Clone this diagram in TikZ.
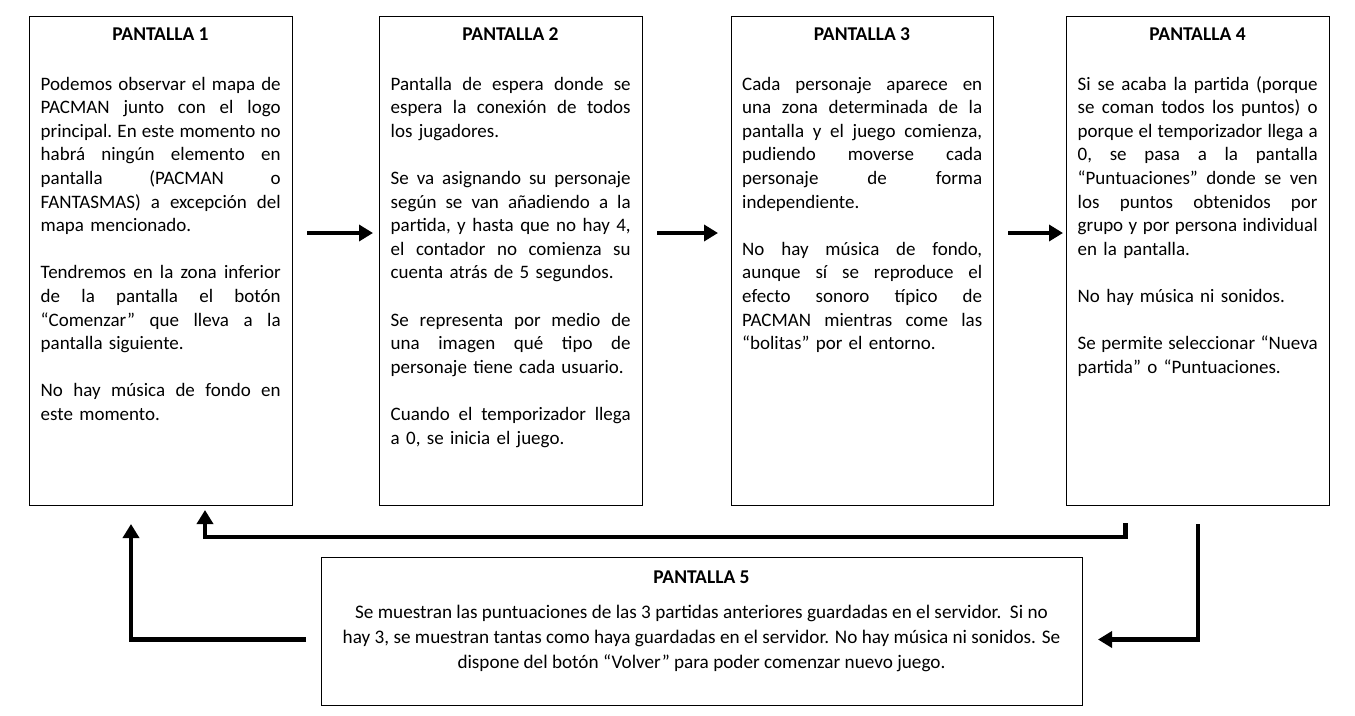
\documentclass[tikz,border=0pt]{standalone}
\usepackage{fontspec}
\setmainfont{Carlito}
\usetikzlibrary{arrows.meta}
% one justified line of a text box
\newcommand\jl[1]{\hbox to 240pt{\frenchspacing\spaceskip=\fontdimen2\font plus 1fill minus 0.3\fontdimen2\font\relax #1}}
% one natural (last) line of a paragraph
\newcommand\nl[1]{\hbox{#1}}
\newcommand\gap{\par\vspace{23.6pt}}
\begin{document}
\begin{tikzpicture}[x=1pt,y=-1pt,
  box/.style={draw=black,line width=1pt,minimum width=263pt,minimum height=489pt,inner sep=0pt,anchor=north west},
  ttl/.style={font=\fontsize{19.5}{23.6}\selectfont\bfseries,anchor=base,inner sep=0pt},
  body/.style={text width=240pt,align=left,anchor=base west,inner sep=0pt,font=\fontsize{19}{23.6}\selectfont},
  arr/.style={line width=4.5pt,-{Triangle[length=14pt,width=16pt]}}]
\useasboundingbox (0,0) rectangle (1355,715);

% boxes
\node[box] (b1) at (29,16) {};
\node[box] (b2) at (379,16) {};
\node[box,minimum width=262pt] (b3) at (731,16) {};
\node[box] (b4) at (1066,16) {};
\node[box,minimum width=761pt,minimum height=148pt] (b5) at (321,557) {};

% titles
\node[ttl] (t1) at (160.5,40) {PANTALLA 1};
\node[ttl] (t2) at (510.5,40) {PANTALLA 2};
\node[ttl] (t3) at (862,40) {PANTALLA 3};
\node[ttl] (t4) at (1197.5,40) {PANTALLA 4};
\node[ttl] (t5) at (701.5,583) {PANTALLA 5};

% bodies
\node[body] (p1) at (40.5,90) {%
\jl{Podemos observar el mapa de}
\jl{PACMAN junto con el logo}
\jl{principal. En este momento no}
\jl{habrá ningún elemento en}
\jl{pantalla (PACMAN o}
\jl{FANTASMAS) a excepción del}
\nl{mapa mencionado.}
\gap
\jl{Tendremos en la zona inferior}
\jl{de la pantalla el botón}
\jl{“Comenzar” que lleva a la}
\nl{pantalla siguiente.}
\gap
\jl{No hay música de fondo en}
\nl{este momento.}};

\node[body] (p2) at (390.5,90) {%
\jl{Pantalla de espera donde se}
\jl{espera la conexión de todos}
\nl{los jugadores.}
\gap
\jl{Se va asignando su personaje}
\jl{según se van añadiendo a la}
\jl{partida, y hasta que no hay 4,}
\jl{el contador no comienza su}
\nl{cuenta atrás de 5 segundos.}
\gap
\jl{Se representa por medio de}
\jl{una imagen qué tipo de}
\nl{personaje tiene cada usuario.}
\gap
\jl{Cuando el temporizador llega}
\nl{a 0, se inicia el juego.}};

\node[body] (p3) at (742,90) {%
\jl{Cada personaje aparece en}
\jl{una zona determinada de la}
\jl{pantalla y el juego comienza,}
\jl{pudiendo moverse cada}
\jl{personaje de forma}
\nl{independiente.}
\gap
\jl{No hay música de fondo,}
\jl{aunque sí se reproduce el}
\jl{efecto sonoro típico de}
\jl{PACMAN mientras come las}
\nl{“bolitas” por el entorno.}};

\node[body] (p4) at (1077.5,90) {%
\jl{Si se acaba la partida (porque}
\jl{se coman todos los puntos) o}
\jl{porque el temporizador llega a}
\jl{0, se pasa a la pantalla}
\jl{“Puntuaciones” donde se ven}
\jl{los puntos obtenidos por}
\jl{grupo y por persona individual}
\nl{en la pantalla.}
\gap
\nl{No hay música ni sonidos.}
\gap
\jl{Se permite seleccionar “Nueva}
\nl{partida” o “Puntuaciones.}};

\node[anchor=base,inner sep=0pt,align=center,font=\fontsize{19.2}{25}\selectfont] (p5) at (701.5,668)
{Se muestran las puntuaciones de las 3 partidas anteriores guardadas en el servidor.\ \ Si no\\
hay 3, se muestran tantas como haya guardadas en el servidor. No hay música ni sonidos. Se\\
dispone del botón “Volver” para poder comenzar nuevo juego.};

% horizontal arrows
\draw[arr] ([xshift=14pt,yshift=28pt]b1.east) -- ([xshift=-6pt,yshift=28pt]b2.west);
\draw[arr] ([xshift=14pt,yshift=28pt]b2.east) -- ([xshift=-13pt,yshift=28pt]b3.west);
\draw[arr] ([xshift=14pt,yshift=28pt]b3.east) -- ([xshift=-3pt,yshift=28pt]b4.west);

% return connectors
\draw[arr] ([xshift=-72.5pt,yshift=-17pt]b4.south) |- ([xshift=44pt,yshift=-31pt]b1.south) -- ([xshift=44pt,yshift=-4pt]b1.south);
\draw[arr] ([yshift=-18pt]b4.south) |- ([xshift=15pt,yshift=-8pt]b5.east);
\draw[arr] ([xshift=-15pt,yshift=-8pt]b5.west) -| ([xshift=-30pt,yshift=-18pt]b1.south);
\end{tikzpicture}
\end{document}
